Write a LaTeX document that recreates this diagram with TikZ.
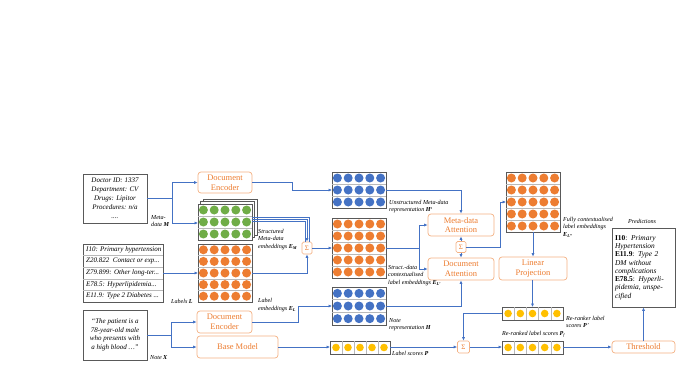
\documentclass[tikz,border=0pt]{standalone}
\usepackage{fontspec}
\setmainfont{Liberation Serif}[ItalicFont={Liberation Serif Italic},BoldFont={Liberation Serif Bold},BoldItalicFont={Liberation Serif Bold Italic}]
\usetikzlibrary{arrows.meta,calc}
\definecolor{lblue}{HTML}{4472C4}
\definecolor{orgtxt}{HTML}{ED7D31}
\definecolor{orgbd}{HTML}{F4B183}
\definecolor{cgreen}{HTML}{70AD47}
\definecolor{corange}{HTML}{ED7D31}
\definecolor{cyellow}{HTML}{FFC000}
\definecolor{dgray}{HTML}{595959}
\newcommand\fsA{\fontsize{8.5}{9.8}\selectfont}
\newcommand\fsS{\fontsize{7}{8}\selectfont}
\newcommand\fsL{\fontsize{6.1}{7.4}\selectfont\itshape}
\newcommand\fsT{\fontsize{7}{9}\selectfont\itshape}
\newcommand\fsP{\fontsize{7.4}{8.3}\selectfont}
\newcommand\bv[1]{\textbf{\textit{#1}}}
\newcommand\embmat[7]{%
  \pgfmathsetmacro\mw{#4-#2}\pgfmathsetmacro\mh{#5-#3}%
  \pgfmathsetmacro\rh{\mh/#6}\pgfmathsetmacro\cw{\mw/5}%
  \node[matbox, minimum width=\mw pt, minimum height=\mh pt, anchor=north west] (#1) at (#2,#3) {};
  \foreach \r in {2,...,#6}{\draw[rowline] (#2,{#3+(\r-1)*\rh}) -- (#4,{#3+(\r-1)*\rh});}
  \foreach \r in {1,...,#6}{\foreach \c in {1,...,5}{%
    \fill[#7] ({#2+(\c-0.5)*\cw},{#3+(\r-0.5)*\rh}) circle (4.5pt);}}
}
\newcommand\scorerow[5]{%
  \pgfmathsetmacro\mw{#4-#2}\pgfmathsetmacro\mh{#5-#3}\pgfmathsetmacro\cw{\mw/5}%
  \node[matbox, minimum width=\mw pt, minimum height=\mh pt, anchor=north west] (#1) at (#2,#3) {};
  \foreach \c in {2,...,5}{\draw[rowline] ({#2+(\c-1)*\cw},#3) -- ({#2+(\c-1)*\cw},#5);}
  \foreach \c in {1,...,5}{\fill[cyellow] ({#2+(\c-0.5)*\cw},{(#3+#5)/2}) circle (3.8pt);}
}
\begin{document}
\begin{tikzpicture}[x=1pt,y=-1pt,
 matbox/.style={draw=dgray, line width=0.9pt, inner sep=0pt, outer sep=0pt, fill=white},
 rowline/.style={draw=gray!55, line width=0.5pt},
 proc/.style={draw=orgbd, line width=0.7pt, rounded corners=3pt, text=orgtxt, font=\fsA, align=center, inner sep=1pt, fill=white},
 sig/.style={draw=orgbd, line width=0.7pt, rounded corners=1.5pt, text=orgtxt, font=\fsS, inner sep=0pt, minimum width=10pt, minimum height=12pt, fill=white},
 conn/.style={draw=lblue, line width=0.8pt, -{Latex[length=3.5pt,width=3.2pt]}},
 wire/.style={draw=lblue, line width=0.8pt},
 lbl/.style={font=\fsL, align=left, inner sep=0pt, anchor=north west},
 tbox/.style={draw=dgray, line width=0.9pt, font=\fsT, align=center, inner sep=1pt, fill=white},
]
\useasboundingbox (0,0) rectangle (689,389);

% ---------- inputs ----------
\node[tbox, minimum width=64pt, minimum height=49pt] (meta) at (115,198.5)
  {Doctor ID: 1337\\Department: CV\\Drugs: Lipitor\\Procedures: n/a\\....};
\node[matbox, draw=dgray, minimum width=80pt, minimum height=58pt, anchor=north west] (lst) at (83,244) {};
\foreach \i in {1,2,3,4}{\draw[rowline] (83,{244+\i*11.6}) -- (163,{244+\i*11.6});}
\node[font=\fsT, anchor=west, inner sep=0pt] (l1) at (86,249.8) {I10: Primary hypertension};
\node[font=\fsT, anchor=west, inner sep=0pt] (l2) at (86,261.4) {Z20.822\ \ Contact or exp...};
\node[font=\fsT, anchor=west, inner sep=0pt] (l3) at (86,273.0) {Z79.899: Other long-ter...};
\node[font=\fsT, anchor=west, inner sep=0pt] (l4) at (86,284.6) {E78.5: Hyperlipidemia...};
\node[font=\fsT, anchor=west, inner sep=0pt] (l5) at (86,296.2) {E11.9: Type 2 Diabetes ...};
\node[tbox, minimum width=64pt, minimum height=50pt, font=\fontsize{7}{8.5}\selectfont\itshape] (note) at (115,335)
  {“The patient is a\\78-year-old male\\who presents with\\a high blood …”};

% ---------- encoders ----------
\node[proc, minimum width=54pt, minimum height=21pt] (enc1) at (225,182.5) {Document\\Encoder};
\node[proc, minimum width=55pt, minimum height=22pt] (enc2) at (224.5,322) {Document\\Encoder};
\node[proc, minimum width=81pt, minimum height=22pt] (base) at (237.5,347) {Base Model};

% ---------- embedding matrices ----------
\draw[matbox] (203,199) rectangle (257,235);
\draw[matbox] (200.5,201.5) rectangle (254.5,237.5);
\embmat{green}{198}{204}{252}{240}{3}{cgreen}
\embmat{lab}{198}{244}{252}{302}{5}{corange}
\embmat{Hs}{332}{172}{386}{208}{3}{lblue}
\embmat{om}{332}{218}{386}{278}{5}{corange}
\embmat{H}{332}{287}{386}{325}{3}{lblue}
\embmat{fc}{506}{172}{560}{232}{5}{corange}

\scorerow{P}{330}{341}{390}{354}
\scorerow{Pp}{502}{307}{563}{320}
\scorerow{Pf}{502}{341}{563}{354}

% ---------- operators ----------
\node[sig] (s1) at (307,248) {Σ};
\node[sig, minimum height=11pt] (s2) at (461,247) {Σ};
\node[sig, minimum width=12pt] (s3) at (463.5,347) {Σ};
\node[proc, minimum width=66pt, minimum height=22pt] (ma) at (461,225) {Meta-data\\Attention};
\node[proc, minimum width=66pt, minimum height=22pt] (da) at (461,269) {Document\\Attention};
\node[proc, minimum width=68pt, minimum height=23pt] (lp) at (533,268.5) {Linear\\Projection};
\node[proc, minimum width=63pt, minimum height=12pt, inner sep=0pt] (thr) at (643.5,347) {Threshold};
\node[tbox, minimum width=63pt, minimum height=79pt, text width=57pt, align=left, font=\fsP, inner sep=2.5pt] (pred) at (643.5,267.5)
  {\textbf{I10}: \textit{Primary}\\\textit{Hypertension}\\\textbf{E11.9}: \textit{Type 2}\\\textit{DM without}\\\textit{complications}\\\textbf{E78.5}: \textit{Hyperli-}\\\textit{pidemia, unspe-}\\\textit{cified}};

% ---------- labels ----------
\node[lbl] (tM) at (151,215) {Meta-\\data \bv{M}};
\node[lbl] (tEM) at (258,229) {Structured\\Meta-data\\embeddings \bv{E}\textsubscript{\bv{M}}};
\node[lbl] (tL) at (171,299.5) {Labels \bv{L}};
\node[lbl] (tEL) at (258,298.5) {Label\\embeddings \bv{E}\textsubscript{\bv{L}}};
\node[lbl] (tX) at (150,355) {Note \bv{X}};
\node[lbl] (tHs) at (389,200) {Unstructured Meta-data\\representation \bv{H}\textsuperscript{\textit{s}}};
\node[lbl] (tELp) at (388,265) {Struct.-data\\contextualised\\label embeddings \bv{E}\textsubscript{\bv{L'}}};
\node[lbl] (tH) at (389,318) {Note\\representation \bv{H}};
\node[lbl] (tP) at (392,351.5) {Label scores \bv{P}};
\node[lbl] (tELpp) at (563,217) {Fully contextualised\\label embeddings\\\bv{E}\textsubscript{\bv{L''}}};
\node[lbl] (tPred) at (628,219) {Predictions};
\node[lbl] (tPp) at (566,316) {Re-ranker label\\scores \bv{P}'};
\node[lbl] (tPf) at (502,331) {Re-ranked label scores \bv{P}\textsubscript{\textit{f}}};

% ---------- connectors ----------
\coordinate (t1) at (172,198.5);
\draw[wire] (meta.east) -- (t1);
\draw[conn] (t1) |- (enc1.west);
\draw[conn] (t1) |- ([yshift=-1pt]green.west);
\draw[conn] (enc1.east) -- ++(40,0) |- (Hs.west);
\draw[wire] ([yshift=5pt]green.east) -| ([xshift=2pt]s1.north);
\draw[conn] ([yshift=3pt]green.east) -| (s1.north);
\draw[wire] ([yshift=1pt]green.east) -| ([xshift=-2pt]s1.north);
\draw[conn] (lst.east |- lab.west) -- (lab.west);
\draw[conn] (lab.east) -| (s1.south);
\draw[conn] (s1.east) -- (s1.east -| om.west);
\coordinate (t2) at (171,335);
\draw[wire] (note.east) -- (t2);
\draw[conn] (t2) |- (enc2.west);
\draw[conn] (t2) |- (base.west);
\draw[conn] (enc2.east) -- ++(46,0) |- (H.west);
\draw[conn] (base.east) -- (base.east -| P.west);
\draw[conn] (Hs.east) -| (ma.north);
\coordinate (t3) at (419,248);
\draw[wire] (om.east |- t3) -- (t3);
\draw[conn] (t3) |- (ma.west);
\draw[conn] (t3) |- (da.west);
\draw[conn] (H.east) -| (da.south);
\draw[conn] (s2.north) -- (ma.south);
\draw[conn] (s2.south) -- (da.north);
\draw[conn] (s2.east) -- (500,247) |- (fc.west);
\draw[conn] (fc.south) -- (lp.north -| fc.south);
\draw[conn] (lp.south -| Pp.north) -- (Pp.north);
\draw[conn] (Pp.west) -| (s3.north);
\draw[conn] (P.east |- s3.west) -- (s3.west);
\draw[conn] (s3.east) -- (s3.east -| Pf.west);
\draw[conn] (Pf.east |- thr.west) -- (thr.west);
\draw[conn] (thr.north) -- (thr.north |- pred.south);
\end{tikzpicture}
\end{document}
